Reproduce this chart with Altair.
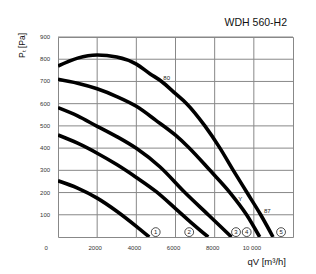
import altair as alt
import pandas as pd

# Fan curves (qV [m3/h], Pt [Pa])
c1_x = [0, 1000, 2000, 3000, 4000, 4660]
c1_y = [253, 220, 175, 116, 48, 0]
c2_x = [0, 1000, 2000, 3000, 4000, 5000, 6000, 6800, 7670]
c2_y = [459, 422, 377, 326, 268, 205, 128, 65, 0]
c3_x = [0, 1000, 2000, 3000, 4000, 5200, 6480, 7670, 8860]
c3_y = [582, 545, 498, 452, 399, 316, 200, 100, 0]
c4_x = [0, 1000, 2000, 3000, 4000, 5000, 6000, 6650, 7760, 8780, 9630, 10300]
c4_y = [710, 692, 667, 632, 588, 525, 458, 405, 300, 200, 100, 0]
c5_x = [0, 1000, 2000, 3000, 4000, 4690, 5290, 6000, 6570, 7500, 8270, 8950, 9650, 10350, 10980]
c5_y = [769, 805, 819, 810, 778, 735, 700, 645, 600, 500, 400, 300, 200, 100, 0]

circle_labels = ["1", "2", "3", "4", "5"]
circle_x = [4990, 6700, 9090, 9635, 11390]
circle_y = [22, 22, 22, 22, 22]

note_labels = ["80", "Y", "87"]
note_x = [5550, 9300, 10690]
note_y = [717, 171, 117]

x_ticks = [2000, 4000, 6000, 8000, 10000]
x_tick_labels = ["2000", "4000", "6000", "8000", "10 000"]
y_ticks = [100, 200, 300, 400, 500, 600, 700, 800, 900]
y_tick_labels = ["100", "200", "300", "400", "500", "600", "700", "800", "900"]

rows = []
for cid, (xs_, ys_) in enumerate([(c1_x, c1_y), (c2_x, c2_y), (c3_x, c3_y), (c4_x, c4_y), (c5_x, c5_y)], start=1):
    for xv, yv in zip(xs_, ys_):
        rows.append({"curve": cid, "q": xv, "p": yv})
curves_df = pd.DataFrame(rows)
circ_df = pd.DataFrame({"lab": circle_labels, "q": circle_x, "p": circle_y})
note_df = pd.DataFrame({"lab": note_labels, "q": note_x, "p": note_y})
xlab_df = pd.DataFrame({"lab": ["0"] + x_tick_labels, "q": [-610] + [v - 100 for v in x_ticks], "p": [-51] * 6})
ylab_df = pd.DataFrame({"lab": y_tick_labels, "p": y_ticks, "q": [-660] * len(y_ticks)})
xgrid_df = pd.DataFrame({"q": x_ticks})
ygrid_df = pd.DataFrame({"p": y_ticks})

FONT = "Liberation Sans"
xs = alt.Scale(domain=[0, 12000], nice=False, zero=False)
ys = alt.Scale(domain=[0, 900], nice=False, zero=False)
xo = alt.X("q:Q", scale=xs, axis=None)
yo = alt.Y("p:Q", scale=ys, axis=None)

xgrid = alt.Chart(xgrid_df).mark_rule(color="#888", strokeWidth=1).encode(x=xo)
ygrid = alt.Chart(ygrid_df).mark_rule(color="#888", strokeWidth=1).encode(y=yo)

lines = alt.Chart(curves_df).mark_line(
    color="black", strokeWidth=3.6, interpolate="monotone", clip=True
).encode(x=xo, y=yo, detail="curve:N")

circles = alt.Chart(circ_df).mark_point(
    shape="circle", size=78, filled=True, fill="white", stroke="#222", strokeWidth=0.8, opacity=1
).encode(x=xo, y=yo)

circ_text = alt.Chart(circ_df).mark_text(
    font=FONT, fontSize=6, color="#222", baseline="middle", align="center"
).encode(x=xo, y=yo, text="lab:N")

notes = alt.Chart(note_df).mark_text(
    font=FONT, fontSize=6, color="#222", baseline="middle", align="center"
).encode(x=xo, y=yo, text="lab:N")

xlabs = alt.Chart(xlab_df).mark_text(
    font=FONT, fontSize=6, color="#333", baseline="middle", align="center"
).encode(x=xo, y=yo, text="lab:N")

ylabs = alt.Chart(ylab_df).mark_text(
    font=FONT, fontSize=6, color="#333", baseline="middle", align="center"
).encode(x=xo, y=yo, text="lab:N")

title_t = alt.Chart(pd.DataFrame({"t": ["WDH 560-H2"]})).mark_text(
    font=FONT, fontSize=10.5, color="#111", align="right", baseline="middle"
).encode(x=alt.value(229), y=alt.value(-14.5), text="t:N")

xtitle = alt.Chart(pd.DataFrame({"t": ["qV [m³/h]"]})).mark_text(
    font=FONT, fontSize=9.5, color="#111", align="right", baseline="middle"
).encode(x=alt.value(228), y=alt.value(225), text="t:N")

ytitle = alt.Chart(pd.DataFrame({"t": ["Pₜ [Pa]"]})).mark_text(
    font=FONT, fontSize=8.5, color="#111", align="center", baseline="middle", angle=270
).encode(x=alt.value(-36.5), y=alt.value(8.5), text="t:N")

chart = alt.layer(xgrid, ygrid, lines, circles, circ_text, notes, xlabs, ylabs,
                  title_t, xtitle, ytitle).properties(
    width=235, height=200,
    autosize=alt.AutoSizeParams(type="none"),
    padding={"left": 58, "top": 37, "right": 23, "bottom": 37},
    background="white",
).configure_view(stroke="#888", strokeWidth=1)

chart.save("out.html", embed_options={"renderer": "svg", "actions": False})
